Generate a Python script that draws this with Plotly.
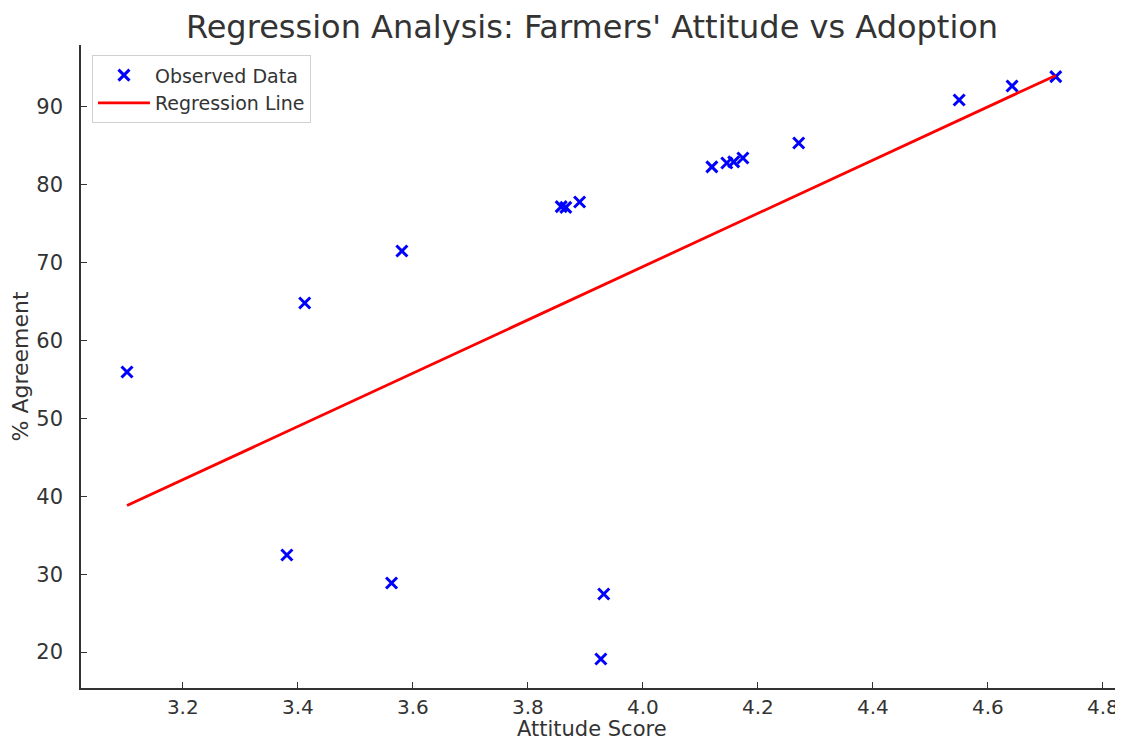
import numpy as np
import plotly.graph_objects as go

attitude = [3.103, 3.412, 3.581, 3.381, 3.563, 3.858, 3.866, 3.890, 3.932, 3.927,
            4.120, 4.146, 4.158, 4.174, 4.271, 4.550, 4.642, 4.718]
agreement = [55.96, 64.83, 71.5, 32.46, 28.87, 77.2, 77.1, 77.8, 27.45, 19.1,
             82.3, 82.8, 82.95, 83.45, 85.38, 90.9, 92.7, 93.9]
x_ticks = [3.2, 3.4, 3.6, 3.8, 4.0, 4.2, 4.4, 4.6, 4.8]
x_tick_labels = ["3.2", "3.4", "3.6", "3.8", "4.0", "4.2", "4.4", "4.6", "4.8"]
y_ticks = [20, 30, 40, 50, 60, 70, 80, 90]

x = np.array(attitude)
y = np.array(agreement)
slope, intercept = np.polyfit(x, y, 1)
line_x = np.array([x.min(), x.max()])
line_y = slope * line_x + intercept

font = "DejaVu Sans, sans-serif"
txt = "#333333"
fig = go.Figure()
fig.add_trace(go.Scatter(
    x=attitude, y=agreement, mode="markers", name="Observed Data",
    marker=dict(symbol="x-thin-open", size=11, color="blue",
                line=dict(color="blue", width=3)),
))
fig.add_trace(go.Scatter(
    x=line_x, y=line_y, mode="lines", name="Regression Line",
    line=dict(color="red", width=2.8),
))
# page body has an 8px margin, so the figure is sized/offset accordingly
fig.update_layout(
    width=1115, height=732,
    margin=dict(l=73, r=8, t=37, b=52),
    paper_bgcolor="white", plot_bgcolor="white",
    font=dict(family=font, size=21, color=txt),
    title=dict(text="Regression Analysis: Farmers' Attitude vs Adoption",
               x=584 / 1115, xref="container", xanchor="center",
               y=1 - 19 / 732, yref="container", yanchor="middle",
               font=dict(size=32, color=txt)),
    showlegend=True,
    legend=dict(x=0.0106, y=0.984, xanchor="left", yanchor="top",
                bordercolor="#d0d0d0", borderwidth=1, bgcolor="white",
                font=dict(size=19, color=txt), tracegroupgap=0, itemwidth=52),
    xaxis=dict(range=[3.023, 4.821], tickvals=x_ticks, ticktext=x_tick_labels,
               showgrid=False, zeroline=False, showline=True, linecolor=txt, linewidth=1.5,
               ticks="inside", ticklen=6, tickwidth=1.2, tickcolor=txt,
               tickfont=dict(size=20), automargin=False, ticklabelstandoff=0),
    yaxis=dict(range=[15.38, 97.96], tickvals=y_ticks,
               showgrid=False, zeroline=False, showline=True, linecolor=txt, linewidth=1.5,
               ticks="inside", ticklen=6, tickwidth=1.2, tickcolor=txt,
               tickfont=dict(size=21), automargin=False, ticklabelstandoff=12),
    annotations=[
        dict(text="Attitude Score", xref="paper", yref="paper", x=0.5, y=0,
             xshift=-6, yshift=-41, xanchor="center", yanchor="middle",
             showarrow=False, font=dict(size=21, color=txt)),
        dict(text="% Agreement", xref="paper", yref="paper", x=0, y=0.5,
             xshift=-61, xanchor="center", yanchor="middle", textangle=-90,
             showarrow=False, font=dict(size=22, color=txt)),
    ],
)
fig.write_html("out.html")
